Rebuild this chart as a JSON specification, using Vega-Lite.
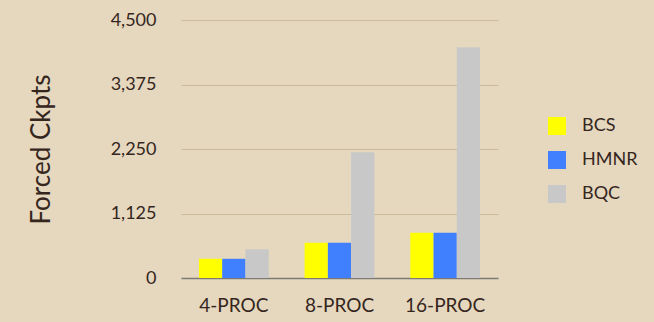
{
  "$schema": "https://vega.github.io/schema/vega-lite/v6.json",
  "width": 317,
  "height": 258,
  "autosize": {"type": "none"},
  "padding": {"left": 181, "top": 20, "right": 156, "bottom": 44},
  "background": "#e5d8bf",
  "config": {
    "view": {"stroke": null},
    "font": "Lato",
    "axis": {"labelColor": "#35261d", "titleColor": "#35261d", "labelFont": "Lato", "titleFont": "Lato", "titleFontWeight": "normal"},
    "legend": {"labelColor": "#35261d", "labelFont": "Lato"}
  },
  "data": {
    "values": [
      {"group": "4-PROC", "series": "BCS", "value": 335},
      {"group": "4-PROC", "series": "HMNR", "value": 335},
      {"group": "4-PROC", "series": "BQC", "value": 500},
      {"group": "8-PROC", "series": "BCS", "value": 615},
      {"group": "8-PROC", "series": "HMNR", "value": 615},
      {"group": "8-PROC", "series": "BQC", "value": 2195},
      {"group": "16-PROC", "series": "BCS", "value": 790},
      {"group": "16-PROC", "series": "HMNR", "value": 790},
      {"group": "16-PROC", "series": "BQC", "value": 4025}
    ]
  },
  "mark": {"type": "bar"},
  "encoding": {
    "x": {
      "field": "group",
      "type": "nominal",
      "sort": ["4-PROC", "8-PROC", "16-PROC"],
      "scale": {"paddingInner": 0.34, "paddingOuter": 0.17},
      "axis": {
        "title": null,
        "labelAngle": 0,
        "labelFontSize": 19,
        "labelPadding": 18,
        "ticks": false,
        "domain": true,
        "domainColor": "#7d7a74",
        "domainWidth": 1.5,
        "grid": false
      }
    },
    "xOffset": {"field": "series", "type": "nominal", "sort": ["BCS", "HMNR", "BQC"]},
    "y": {
      "field": "value",
      "type": "quantitative",
      "scale": {"domain": [0, 4500], "nice": false},
      "axis": {
        "title": "Forced Ckpts",
        "titleFontSize": 26,
        "titlePadding": 56,
        "values": [0, 1125, 2250, 3375, 4500],
        "format": ",d",
        "labelFontSize": 18,
        "labelPadding": 25,
        "ticks": false,
        "domain": false,
        "grid": true,
        "gridColor": "#cbbb9c",
        "gridWidth": 1
      }
    },
    "color": {
      "field": "series",
      "type": "nominal",
      "sort": ["BCS", "HMNR", "BQC"],
      "scale": {"domain": ["BCS", "HMNR", "BQC"], "range": ["#ffff00", "#4080ff", "#c8c8c8"]},
      "legend": {
        "title": null,
        "orient": "none",
        "legendX": 367,
        "legendY": 97,
        "symbolType": "square",
        "symbolSize": 324,
        "symbolStrokeWidth": 0,
        "labelFontSize": 18,
        "labelOffset": 16,
        "rowPadding": 16
      }
    }
  }
}
